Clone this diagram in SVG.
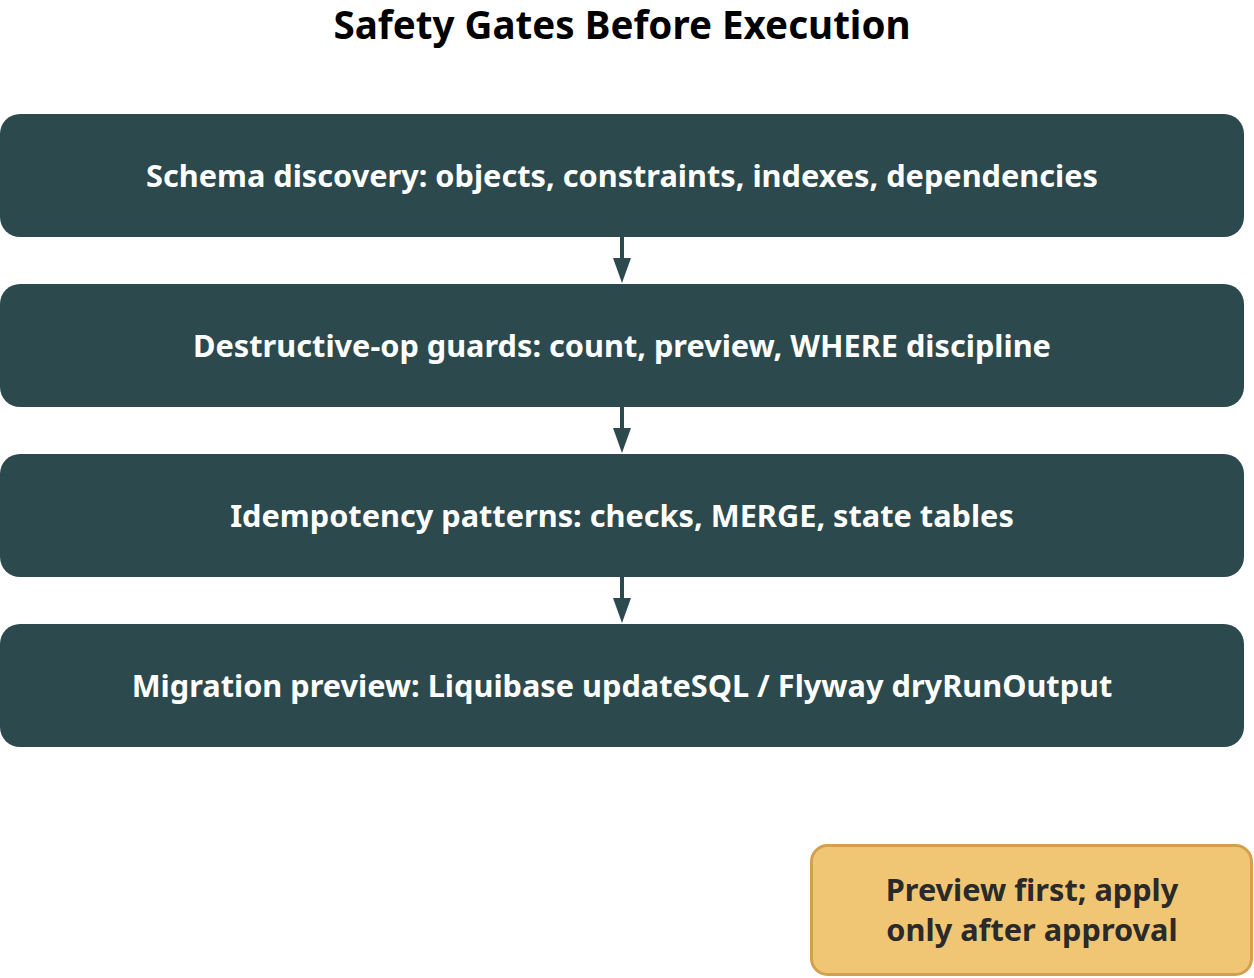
<svg xmlns="http://www.w3.org/2000/svg" width="1254" height="978" viewBox="0 0 1254 978">
<style>
.title{font-family:"Noto Sans","Open Sans",sans-serif;font-weight:700;font-size:38.6px;fill:#000;text-anchor:middle}
.box{fill:#2c4a4d}
.lbl{font-family:"Noto Sans","Open Sans",sans-serif;font-weight:700;font-size:30.7px;fill:#fff;text-anchor:middle}
.note{fill:#f0c674;stroke:#d2a04e;stroke-width:3}
.ntxt{font-family:"Noto Sans","Open Sans",sans-serif;font-weight:700;font-size:30.7px;fill:#2a2a2a;text-anchor:middle}
.conn{stroke:#2c4a4d;stroke-width:4;fill:none}
.ah{fill:#2c4a4d}
</style>
<text class="title" x="622" y="39">Safety Gates Before Execution</text>
<g id="connectors">
<path d="M622,237 L622,258" class="conn"/><path class="ah" d="M613,258 L631,258 L622,283 Z"/>
<path d="M622,407 L622,428" class="conn"/><path class="ah" d="M613,428 L631,428 L622,453 Z"/>
<path d="M622,577 L622,598" class="conn"/><path class="ah" d="M613,598 L631,598 L622,623 Z"/>
</g>
<g id="n1"><rect class="box" x="0" y="114" width="1244" height="123" rx="20"/><text class="lbl" x="622" y="187">Schema discovery: objects, constraints, indexes, dependencies</text></g>
<g id="n2"><rect class="box" x="0" y="284" width="1244" height="123" rx="20"/><text class="lbl" x="622" y="357">Destructive-op guards: count, preview, WHERE discipline</text></g>
<g id="n3"><rect class="box" x="0" y="454" width="1244" height="123" rx="20"/><text class="lbl" x="622" y="527">Idempotency patterns: checks, MERGE, state tables</text></g>
<g id="n4"><rect class="box" x="0" y="624" width="1244" height="123" rx="20"/><text class="lbl" x="622" y="697">Migration preview: Liquibase updateSQL / Flyway dryRunOutput</text></g>
<g id="note"><rect class="note" x="811.5" y="845.5" width="440" height="129" rx="16"/><text class="ntxt" x="1032" y="901">Preview first; apply</text><text class="ntxt" x="1032" y="941">only after approval</text></g>
</svg>
